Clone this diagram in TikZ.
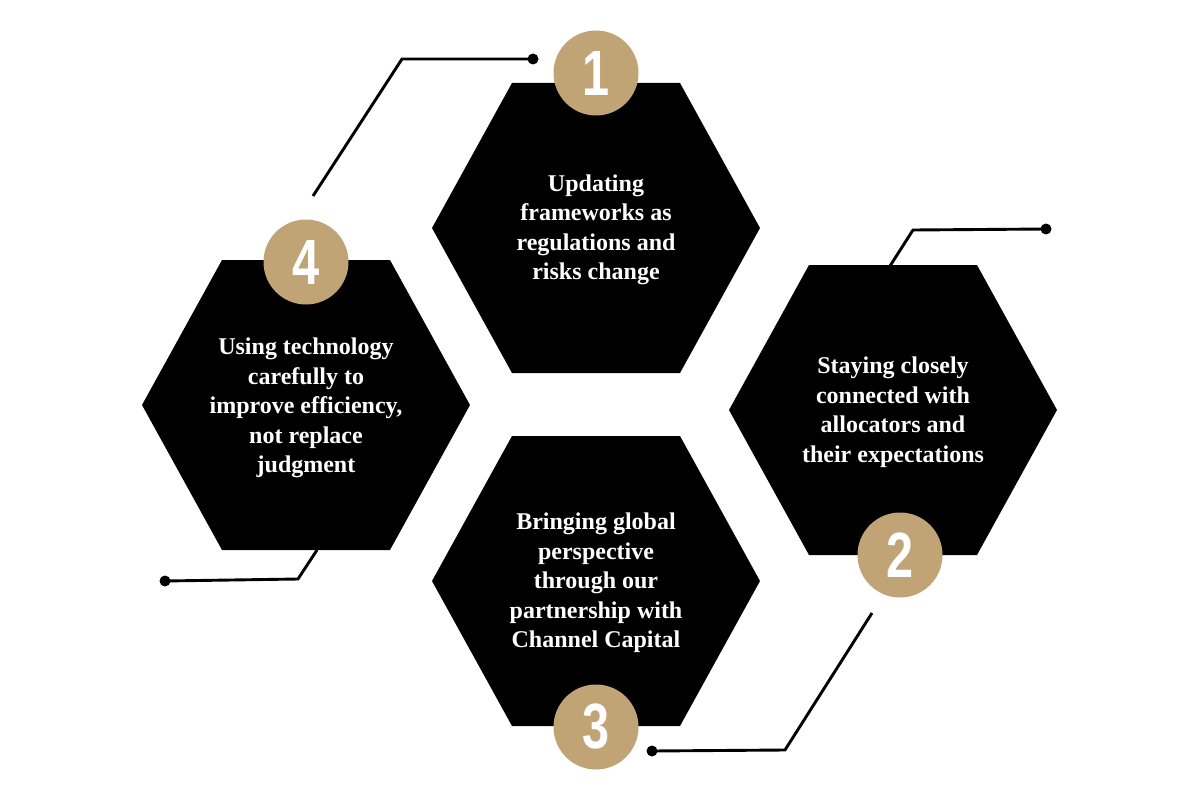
\documentclass[tikz,border=0pt]{standalone}
\usepackage{fontspec}
\setmainfont{Liberation Serif}
\newfontfamily\numfont{Liberation Sans}
\definecolor{gold}{RGB}{193,164,117}
\begin{document}
\begin{tikzpicture}[x=1pt,y=-1pt,
  hexfill/.style={fill=black},
  hextext/.style={text=white,font=\bfseries\fontsize{24}{29.5}\selectfont,align=center},
  badge/.style={circle,fill=gold,minimum size=85pt,inner sep=0pt,text=white},
  link/.style={line width=2.9pt,black,line join=miter},
  dotmark/.style={circle,fill=black,minimum size=11pt,inner sep=0pt}]
\useasboundingbox (0,0) rectangle (1200,800);
\newcommand{\hexat}[2]{\fill[hexfill] (#1-164,#2) -- (#1-84,#2-145) -- (#1+84,#2-145) -- (#1+164,#2) -- (#1+84,#2+145) -- (#1-84,#2+145) -- cycle;}
\newcommand{\bignum}[1]{{\numfont\bfseries\fontsize{64}{64}\selectfont\scalebox{0.76}[1]{#1}}}
% hexagons
\hexat{596}{228}
\hexat{306}{405}
\hexat{893}{410}
\hexat{596}{581}
% texts
\node[hextext] (t1) at (596,230) {Updating\\frameworks as\\regulations and\\risks change};
\node[hextext] (t4) at (306,408) {Using technology\\carefully to\\improve efficiency,\\not replace\\judgment};
\node[hextext] (t2) at (893,412) {Staying closely\\connected with\\allocators and\\their expectations};
\node[hextext] (t3) at (596,583) {Bringing global\\perspective\\through our\\partnership with\\Channel Capital};
% badges
\node[badge] (b1) at (596,73) {\bignum{1}};
\node[badge] (b4) at (306,262) {\bignum{4}};
\node[badge] (b2) at (900,555) {\bignum{2}};
\node[badge] (b3) at (596,727) {\bignum{3}};
% connector points
\node[dotmark] (d1) at (533,59) {};
\coordinate (k1) at (402,59);
\coordinate (e1) at (313,196);
\node[dotmark] (d2) at (1046,229) {};
\coordinate (k2) at (913,230);
\coordinate (e2) at (890,266);
\node[dotmark] (d3) at (652,751) {};
\coordinate (k3) at (785,750);
\coordinate (e3) at (872,613);
\node[dotmark] (d4) at (165,581) {};
\coordinate (k4) at (298,579);
\coordinate (e4) at (317,550);
\draw[link] (d1.center) -- (k1) -- (e1);
\draw[link] (d2.center) -- (k2) -- (e2);
\draw[link] (d3.center) -- (k3) -- (e3);
\draw[link] (d4.center) -- (k4) -- (e4);
\end{tikzpicture}
\end{document}
